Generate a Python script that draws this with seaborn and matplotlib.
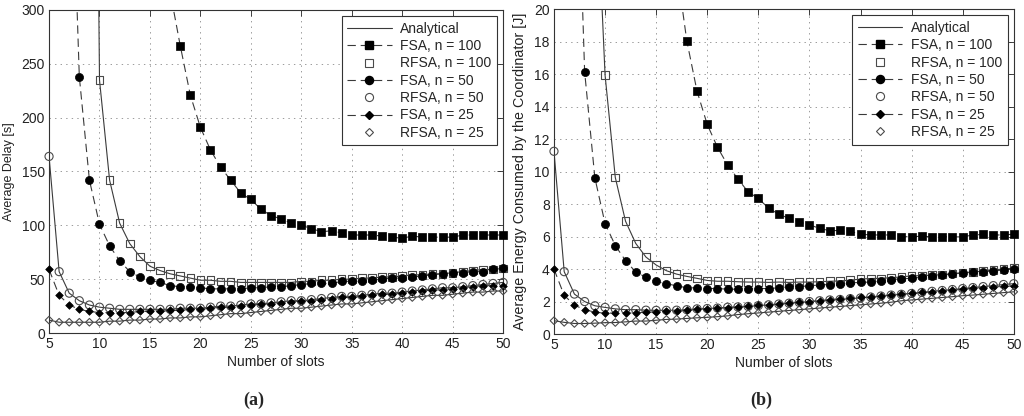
import matplotlib
matplotlib.use("Agg")
import matplotlib.pyplot as plt
from matplotlib.lines import Line2D
import numpy as np
import pandas as pd
import seaborn as sns

# ---------------- data ----------------
slot_max = 50
xticks = [5, 10, 15, 20, 25, 30, 35, 40, 45, 50]
delay_yticks = [0, 50, 100, 150, 200, 250, 300]
energy_yticks = [0, 2, 4, 6, 8, 10, 12, 14, 16, 18, 20]
legend_labels = ["Analytical", "FSA, n = 100", "RFSA, n = 100", "FSA, n = 50",
                 "RFSA, n = 50", "FSA, n = 25", "RFSA, n = 25"]

# first slot of each simulated series
start_fsa100, start_rfsa100, start_fsa50 = 18, 10, 8
start_rfsa50, start_fsa25, start_rfsa25 = 5, 5, 5

# (a) Average delay [s]
delay_fsa100 = [267, 221, 191, 170, 154, 142, 130, 124, 115, 109, 106, 102, 100, 97, 94, 95, 93,
                91, 91, 91, 90, 89, 88, 90, 89, 89, 89, 89, 91, 91, 91, 91, 91]
delay_rfsa100 = [235, 142, 102, 83, 71, 62, 58, 55, 53, 51, 49, 49, 48, 48, 47, 47, 47, 47, 47, 47,
                 48, 48, 49, 49, 50, 50, 51, 51, 52, 52, 53, 54, 54, 55, 55, 56, 57, 58, 59, 59, 60]
delay_fsa50 = [238, 142, 101, 81, 67, 57, 52, 49, 47, 44, 43, 43, 42, 41, 41, 41, 41, 42, 42, 43,
               43, 44, 45, 46, 46, 46, 48, 48, 48, 49, 50, 51, 51, 52, 53, 54, 55, 56, 56, 57, 57, 59, 60]
delay_rfsa50 = [164, 57, 37, 30, 26, 24, 23, 22, 22, 22, 22, 22, 22, 23, 23, 23, 24, 25, 25, 26, 27,
                27, 28, 29, 30, 30, 31, 32, 33, 34, 34, 35, 36, 37, 37, 38, 39, 40, 41, 42, 42, 43,
                44, 45, 46, 47]
delay_fsa25 = [59, 35, 26, 22, 20, 19, 19, 19, 19, 20, 20, 20, 21, 21, 22, 22, 23, 24, 24, 25, 26,
               27, 27, 28, 29, 30, 30, 31, 32, 33, 33, 34, 35, 36, 36, 37, 38, 39, 40, 40, 41, 42,
               43, 44, 44, 44]
delay_rfsa25 = [12, 10, 10, 10, 10, 10, 11, 11, 12, 12, 13, 13, 14, 14, 15, 15, 16, 17, 18, 18, 19,
                20, 21, 22, 23, 23, 24, 25, 26, 27, 27, 28, 29, 30, 31, 32, 33, 34, 35, 35, 36, 37,
                38, 38, 39, 39]
# analytical curve value one slot before the first marker (off the top of the axes)
delay_lead_fsa100, delay_lead_rfsa100, delay_lead_fsa50 = 317, 1220, 520

# (b) Average energy consumed by the coordinator [J]
energy_fsa100 = [18.05, 14.95, 12.9, 11.5, 10.4, 9.55, 8.75, 8.35, 7.75, 7.38, 7.12, 6.9, 6.73, 6.5,
                 6.36, 6.38, 6.32, 6.15, 6.1, 6.1, 6.1, 6.0, 5.98, 6.03, 5.98, 5.98, 5.98, 5.98,
                 6.1, 6.13, 6.1, 6.1, 6.15]
energy_rfsa100 = [15.94, 9.64, 6.95, 5.58, 4.74, 4.25, 3.9, 3.69, 3.55, 3.43, 3.3, 3.25, 3.25, 3.22,
                  3.2, 3.2, 3.18, 3.2, 3.18, 3.2, 3.2, 3.22, 3.25, 3.27, 3.32, 3.38, 3.42, 3.43,
                  3.47, 3.52, 3.58, 3.6, 3.62, 3.66, 3.72, 3.78, 3.82, 3.87, 3.95, 4.0, 4.06]
energy_fsa50 = [16.15, 9.62, 6.8, 5.45, 4.52, 3.82, 3.5, 3.24, 3.1, 2.97, 2.85, 2.84, 2.8, 2.8, 2.76,
                2.76, 2.76, 2.8, 2.8, 2.85, 2.9, 2.92, 2.97, 3.02, 3.05, 3.06, 3.15, 3.18, 3.2,
                3.26, 3.35, 3.4, 3.43, 3.5, 3.55, 3.62, 3.7, 3.75, 3.8, 3.85, 3.87, 3.95, 4.02]
energy_rfsa50 = [11.25, 3.84, 2.46, 2.0, 1.74, 1.64, 1.55, 1.5, 1.5, 1.47, 1.46, 1.46, 1.47, 1.5, 1.55,
                 1.57, 1.6, 1.65, 1.67, 1.7, 1.75, 1.8, 1.85, 1.9, 1.95, 2.0, 2.05, 2.1, 2.13, 2.18,
                 2.22, 2.28, 2.34, 2.4, 2.45, 2.5, 2.56, 2.63, 2.68, 2.74, 2.8, 2.86, 2.92, 2.98,
                 3.05, 3.1]
energy_fsa25 = [4.0, 2.38, 1.78, 1.5, 1.35, 1.28, 1.3, 1.3, 1.3, 1.35, 1.35, 1.4, 1.42, 1.45, 1.52,
                1.56, 1.58, 1.63, 1.65, 1.72, 1.78, 1.8, 1.84, 1.92, 1.96, 2.0, 2.05, 2.12, 2.17,
                2.2, 2.25, 2.28, 2.35, 2.42, 2.46, 2.5, 2.56, 2.6, 2.66, 2.7, 2.76, 2.82, 2.86,
                2.88, 2.95, 2.95]
energy_rfsa25 = [0.82, 0.72, 0.65, 0.65, 0.67, 0.7, 0.71, 0.75, 0.8, 0.8, 0.85, 0.9, 0.92, 0.96, 1.0,
                 1.03, 1.07, 1.12, 1.2, 1.25, 1.3, 1.35, 1.4, 1.45, 1.5, 1.55, 1.6, 1.65, 1.7, 1.75,
                 1.8, 1.85, 1.9, 1.96, 2.05, 2.1, 2.15, 2.2, 2.25, 2.3, 2.36, 2.4, 2.45, 2.5, 2.55,
                 2.6]
energy_lead_fsa100, energy_lead_rfsa100, energy_lead_fsa50 = 22.6, 30, 35.6

# ---------------- style ----------------
sns.set_style("white")
plt.rcParams['font.family'] = ['Liberation Sans', 'DejaVu Sans']
plt.rcParams['font.size'] = 10
plt.rcParams['lines.scale_dashes'] = False

LINE_C = "#3a3a3a"
OPEN_C = "#4a4a4a"
DASH = (0, (6, 3.5))


def series_list(d):
    return [
        (d["fsa100"], start_fsa100, d["lead_fsa100"], "s", True, DASH, 28),
        (d["rfsa100"], start_rfsa100, d["lead_rfsa100"], "s", False, "-", 30),
        (d["fsa50"], start_fsa50, d["lead_fsa50"], "o", True, DASH, 34),
        (d["rfsa50"], start_rfsa50, None, "o", False, "-", 34),
        (d["fsa25"], start_fsa25, None, "D", True, DASH, 15),
        (d["rfsa25"], start_rfsa25, None, "D", False, "-", 15),
    ]


def draw_panel(ax, d, yticks, ylabel, ylabel_size):
    series = series_list(d)
    # analytical lines first
    for vals, start, lead, m, filled, ls, s in series:
        xs = list(range(start, start + len(vals)))
        ys = list(vals)
        if lead is not None:
            xs = [start - 1] + xs
            ys = [lead] + ys
        df = pd.DataFrame({"x": xs, "y": ys})
        sns.lineplot(data=df, x="x", y="y", ax=ax, color=LINE_C, linewidth=0.8,
                     linestyle=ls, estimator=None, sort=False, legend=False, zorder=2)
    # simulation markers
    for i, (vals, start, lead, m, filled, ls, s) in enumerate(series):
        df = pd.DataFrame({"x": list(range(start, start + len(vals))), "y": vals})
        if filled:
            sns.scatterplot(data=df, x="x", y="y", ax=ax, marker=m, s=s, color="black",
                            edgecolor="black", linewidth=0.5, legend=False,
                            zorder=3 + i * 0.1, clip_on=False)
        else:
            sns.scatterplot(data=df, x="x", y="y", ax=ax, marker=m, s=s, color="none",
                            edgecolor=OPEN_C, linewidth=0.8, legend=False,
                            zorder=3 + i * 0.1, clip_on=False)
    ax.set_xlim(5, slot_max)
    ax.set_ylim(yticks[0], yticks[-1])
    ax.set_xticks(xticks)
    ax.set_yticks(yticks)
    ax.grid(True, linestyle=(0, (1, 3)), color="#8a8a8a", linewidth=0.6)
    ax.tick_params(direction="in", top=True, right=True, length=4, width=0.6,
                   labelsize=10, pad=3, colors="#222222")
    for sp in ax.spines.values():
        sp.set_color("#333333")
        sp.set_linewidth(0.8)
    ax.set_xlabel("Number of slots", fontsize=10, labelpad=3, color="#222222")
    ax.set_ylabel(ylabel, fontsize=ylabel_size, labelpad=5, color="#222222")

    handles = [Line2D([], [], color=LINE_C, lw=0.8, ls="-")]
    for vals, start, lead, m, filled, ls, s in series:
        ms = np.sqrt(s)
        if filled:
            handles.append(Line2D([], [], color=LINE_C, lw=0.8, ls=DASH, marker=m,
                                  markersize=ms, markerfacecolor="black",
                                  markeredgecolor="black"))
        else:
            handles.append(Line2D([], [], ls="none", marker=m, markersize=ms,
                                  markerfacecolor="none", markeredgecolor=OPEN_C,
                                  markeredgewidth=0.8))
    leg = ax.legend(handles, legend_labels, loc="upper right", fontsize=10,
                    handlelength=3.2, handletextpad=0.6, labelspacing=0.24,
                    borderpad=0.4, borderaxespad=0.45, fancybox=False, framealpha=1,
                    edgecolor="#333333")
    leg.get_frame().set_linewidth(0.8)
    leg.set_zorder(10)


fig = plt.figure(figsize=(10.24, 4.16), dpi=100)
ax1 = fig.add_axes([0.0479, 0.1995, 0.4434, 0.7765])
ax2 = fig.add_axes([0.541, 0.197, 0.449, 0.781])

delay = dict(fsa100=delay_fsa100, rfsa100=delay_rfsa100, fsa50=delay_fsa50,
             rfsa50=delay_rfsa50, fsa25=delay_fsa25, rfsa25=delay_rfsa25,
             lead_fsa100=delay_lead_fsa100, lead_rfsa100=delay_lead_rfsa100,
             lead_fsa50=delay_lead_fsa50)
energy = dict(fsa100=energy_fsa100, rfsa100=energy_rfsa100, fsa50=energy_fsa50,
              rfsa50=energy_rfsa50, fsa25=energy_fsa25, rfsa25=energy_rfsa25,
              lead_fsa100=energy_lead_fsa100, lead_rfsa100=energy_lead_rfsa100,
              lead_fsa50=energy_lead_fsa50)

draw_panel(ax1, delay, delay_yticks, "Average Delay [s]", 9)
draw_panel(ax2, energy, energy_yticks, "Average Energy Consumed by the Coordinator [J]", 10.3)

fig.text(254 / 1024, 1 - 400 / 416, "(a)", ha="center", va="center",
         fontfamily="Liberation Serif", fontweight="bold", fontsize=13)
fig.text(761 / 1024, 1 - 400 / 416, "(b)", ha="center", va="center",
         fontfamily="Liberation Serif", fontweight="bold", fontsize=13)

fig.savefig("out.png", dpi=100)
